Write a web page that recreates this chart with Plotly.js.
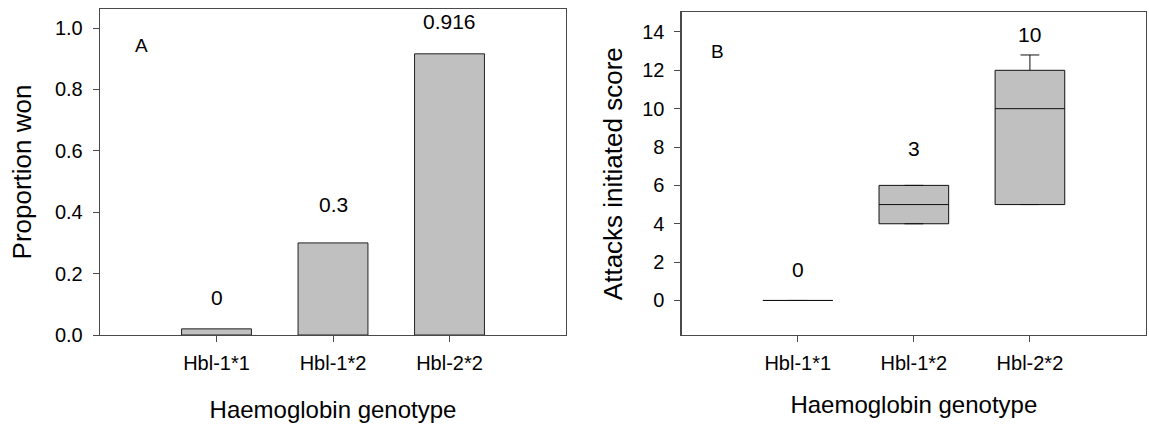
<!DOCTYPE html>
<html>
<head>
<meta charset="utf-8">
<script src="https://cdn.plot.ly/plotly-3.0.1.min.js"></script>
<style>html,body{margin:0;padding:0;background:#fff;}#chart{width:1149px;height:426px;}</style>
</head>
<body>
<div id="chart"></div>
<script>
// ---- data ----
const genotypes = ['Hbl-1*1', 'Hbl-1*2', 'Hbl-2*2'];
// Panel A: proportion of contests won
const proportionWon = [0.02, 0.3, 0.916];
const proportionLabels = ['0', '0.3', '0.916'];
const proportionLabelY = [0.122, 0.425, 1.02];
// Panel B: attacks initiated score (box summaries)
const attackQ1 = [0, 4, 5];
const attackMedian = [0, 5, 10];
const attackQ3 = [0, 6, 12];
const attackLowerFence = [0, 4, 5];
const attackUpperFence = [0, 6, 12.8];
const attackLabels = ['0', '3', '10'];
const attackLabelY = [1.6, 7.9, 13.85];
const yTicksA = [0, 0.2, 0.4, 0.6, 0.8, 1.0];
const yTicksB = [0, 2, 4, 6, 8, 10, 12, 14];

const FONT = 'Liberation Sans, Arial, sans-serif';
const GRAY = '#c0c0c0';
const FRAME = '#4a4a4a';

const traces = [
  {
    type: 'bar', x: genotypes, y: proportionWon, xaxis: 'x', yaxis: 'y',
    width: 0.6, marker: {color: GRAY, line: {color: '#222', width: 1}},
    hoverinfo: 'skip', showlegend: false
  },
  {
    type: 'box', x: genotypes, xaxis: 'x2', yaxis: 'y2',
    q1: attackQ1, median: attackMedian, q3: attackQ3,
    lowerfence: attackLowerFence, upperfence: attackUpperFence,
    width: 0.6, whiskerwidth: 0.27, boxpoints: false,
    fillcolor: GRAY, line: {color: '#111', width: 1},
    hoverinfo: 'skip', showlegend: false
  }
];

const annotations = [];
proportionLabels.forEach((t, i) => annotations.push({
  xref: 'x', yref: 'y', x: genotypes[i], y: proportionLabelY[i], text: t,
  showarrow: false, yanchor: 'middle', font: {size: 21, color: '#000'}
}));
attackLabels.forEach((t, i) => annotations.push({
  xref: 'x2', yref: 'y2', x: genotypes[i], y: attackLabelY[i], text: t,
  showarrow: false, yanchor: 'middle', font: {size: 21, color: '#000'}
}));
annotations.push({xref: 'x', yref: 'y', x: -0.64, y: 0.943, text: 'A', showarrow: false,
  font: {size: 19, color: '#000'}});
annotations.push({xref: 'x2', yref: 'y2', x: -0.69, y: 13.0, text: 'B', showarrow: false,
  font: {size: 19, color: '#000'}});

const axisCommon = {
  showline: true, mirror: true, linecolor: FRAME, linewidth: 1.3,
  ticks: 'outside', ticklen: 6, tickcolor: FRAME, tickwidth: 1,
  showgrid: false, zeroline: false, tickfont: {size: 20, color: '#000'}
};

const layout = {
  width: 1149, height: 426,
  margin: {l: 100, r: 3, t: 9, b: 91},
  paper_bgcolor: '#fff', plot_bgcolor: '#fff',
  font: {family: FONT, color: '#000'},
  showlegend: false,
  xaxis: Object.assign({}, axisCommon, {
    domain: [0, 0.4455], anchor: 'y', type: 'category', range: [-1, 3],
    ticklabelstandoff: 4,
    title: {text: 'Haemoglobin genotype', font: {size: 24}, standoff: 28}
  }),
  yaxis: Object.assign({}, axisCommon, {
    domain: [0, 1], anchor: 'x', range: [0, 1.062],
    tickvals: yTicksA, tickformat: '.1f', ticklabelstandoff: 6,
    title: {text: 'Proportion won', font: {size: 26}, standoff: 15}
  }),
  xaxis2: Object.assign({}, axisCommon, {
    domain: [0.5561, 1], anchor: 'y2', type: 'category', range: [-1, 3],
    ticklabelstandoff: 4,
    title: {text: 'Haemoglobin genotype', font: {size: 24}, standoff: 23}
  }),
  yaxis2: Object.assign({}, axisCommon, {
    domain: [0, 0.9896], anchor: 'x2', range: [-1.8, 15.02],
    tickvals: yTicksB, ticklabelstandoff: 6,
    title: {text: 'Attacks initiated score', font: {size: 26}, standoff: 12}
  }),
  annotations: annotations
};

Plotly.newPlot('chart', traces, layout, {staticPlot: true, displayModeBar: false});
</script>
</body>
</html>
